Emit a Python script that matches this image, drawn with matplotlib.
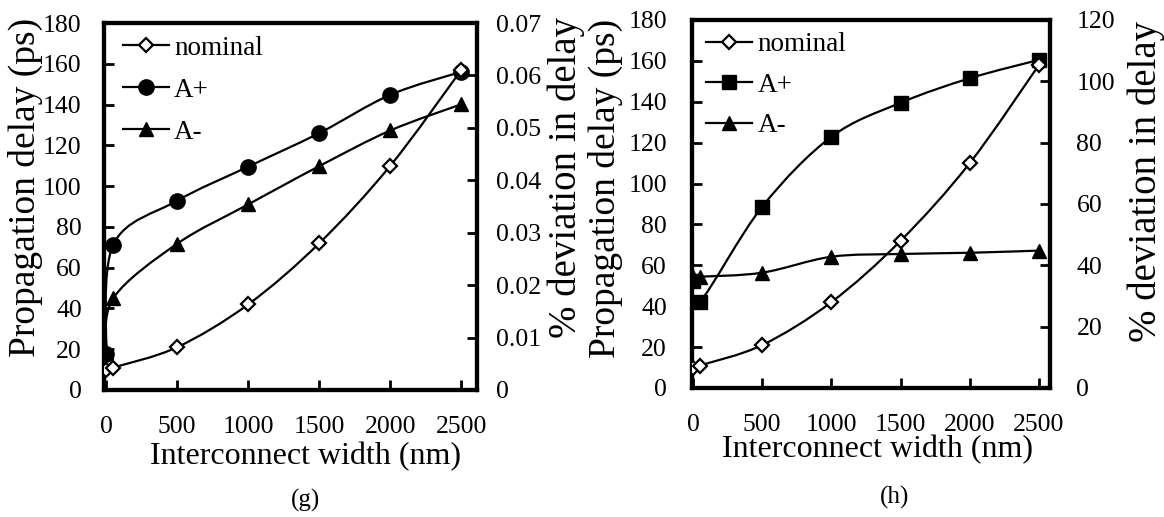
import matplotlib
matplotlib.use("Agg")
import matplotlib.pyplot as plt
from matplotlib.path import Path
from matplotlib.patches import PathPatch
from matplotlib.lines import Line2D

plt.rcParams['font.family'] = ['Liberation Serif', 'DejaVu Serif']

# ---------------- data ----------------
widths = [0, 50, 500, 1000, 1500, 2000, 2500]
x_ticks = [0, 500, 1000, 1500, 2000, 2500]

# panel (g)
g_nominal = [10, 11, 21, 42, 72, 110, 157]                         # ps (left axis)
g_aplus = [0.0068, 0.0277, 0.0361, 0.0426, 0.0490, 0.0563, 0.0607]  # % (right axis)
g_aminus = [0.0072, 0.0175, 0.0279, 0.0354, 0.0427, 0.0495, 0.0545]
g_left_ticks = [0, 20, 40, 60, 80, 100, 120, 140, 160, 180]
g_right_ticks = [0, 0.01, 0.02, 0.03, 0.04, 0.05, 0.06, 0.07]
g_right_labels = ['0', '0.01', '0.02', '0.03', '0.04', '0.05', '0.06', '0.07']

# panel (h)
h_nominal = [10, 11, 21, 42, 72, 110, 158]                          # ps (left axis)
h_aplus = [34.9, 28.1, 59.1, 81.9, 93.0, 101.0, 107.0]              # % (right axis)
h_aminus = [36.3, 36.3, 37.6, 42.8, 43.7, 44.1, 44.8]
h_left_ticks = [0, 20, 40, 60, 80, 100, 120, 140, 160, 180]
h_right_ticks = [0, 20, 40, 60, 80, 100, 120]

series_names = ['nominal', 'A+', 'A-']
xlabel = 'Interconnect width (nm)'
ylabel_left = 'Propagation delay (ps)'
ylabel_right = '% deviation in delay'

W, H = 1164, 517
fig = plt.figure(figsize=(W / 100, H / 100), dpi=100)


def px_axes(l, t, r, b):
    return fig.add_axes([l / W, 1 - b / H, (r - l) / W, (b - t) / H])


def smooth_line(ax, xs, ys, lw=1.6):
    """Excel-style smoothed line: cubic Bezier segments through the points."""
    n = len(xs)
    verts = [(xs[0], ys[0])]
    codes = [Path.MOVETO]
    for i in range(n - 1):
        x0, y0 = xs[max(i - 1, 0)], ys[max(i - 1, 0)]
        x1, y1 = xs[i], ys[i]
        x2, y2 = xs[i + 1], ys[i + 1]
        x3, y3 = xs[min(i + 2, n - 1)], ys[min(i + 2, n - 1)]
        c1 = (x1 + (x2 - x0) / 6.0, y1 + (y2 - y0) / 6.0)
        c2 = (x2 - (x3 - x1) / 6.0, y2 - (y3 - y1) / 6.0)
        verts += [c1, c2, (x2, y2)]
        codes += [Path.CURVE4] * 3
    patch = PathPatch(Path(verts, codes), facecolor='none', edgecolor='black',
                      lw=lw, zorder=2)
    ax.add_patch(patch)


def style_axis(ax, ax2, xlim, ylim, y2lim, yt, y2t, y2l, pads):
    ax.set_xlim(*xlim)
    ax.set_ylim(*ylim)
    ax2.set_ylim(*y2lim)
    ax.set_xticks(x_ticks)
    ax.set_xticklabels([str(v) for v in x_ticks])
    ax.set_yticks(yt)
    ax.set_yticklabels([str(v) for v in yt])
    ax2.set_yticks(y2t)
    ax2.set_yticklabels(y2l)
    for a in (ax, ax2):
        for s in a.spines.values():
            s.set_linewidth(3)
    ax.tick_params(axis='x', direction='in', length=7, width=2, labelsize=18.5,
                   pad=pads[0], top=False)
    ax.tick_params(axis='y', direction='in', length=7, width=2, labelsize=18.5,
                   pad=pads[1], right=False)
    ax2.tick_params(axis='y', direction='in', length=7, width=2, labelsize=18.5,
                    pad=pads[2])


# ---------------- panel (g) ----------------
axg = px_axes(104, 23, 477, 390)
axg2 = axg.twinx()
style_axis(axg, axg2, (-15, 2610), (0, 180), (0, 0.07),
           g_left_ticks, g_right_ticks, g_right_labels, (19, 16, 14))

smooth_line(axg, widths, g_nominal)
smooth_line(axg2, widths, g_aplus)
smooth_line(axg2, widths, g_aminus)
axg2.plot(widths, g_aminus, ls='none', marker='^', ms=9.5, color='black', zorder=3)
axg2.plot(widths, g_aplus, ls='none', marker='o', ms=11, color='black', zorder=3)
axg2.plot(widths, [v * 0.07 / 180 for v in g_nominal], ls='none', marker='D', ms=7,
          mfc='white', mec='black', mew=1.6, zorder=4)

hg = [Line2D([], [], color='black', lw=1.6, marker='D', ms=7, mfc='white', mec='black', mew=1.6),
      Line2D([], [], color='black', lw=1.6, marker='o', ms=11),
      Line2D([], [], color='black', lw=1.6, marker='^', ms=9.5)]
axg2.legend(hg, series_names, loc='upper left', bbox_to_anchor=(0.05, 0.965),
            frameon=False, fontsize=19.5, handlelength=1.7, handletextpad=0.2,
            labelspacing=0.63, borderpad=0, borderaxespad=0, numpoints=1)

fig.text(25 / W, 1 - 187 / H, ylabel_left, rotation=90, ha='center', va='center', fontsize=27)
fig.text(566 / W, 1 - 178 / H, ylabel_right, rotation=90, ha='center', va='center', fontsize=28)
fig.text(305 / W, 1 - 457 / H, xlabel, ha='center', va='center', fontsize=23)
fig.text(305 / W, 1 - 500 / H, '(g)', ha='center', va='center', fontsize=18)

# ---------------- panel (h) ----------------
axh = px_axes(692, 20, 1050, 388)
axh2 = axh.twinx()
style_axis(axh, axh2, (-7, 2580), (0, 180), (0, 120),
           h_left_ticks, h_right_ticks, [str(v) for v in h_right_ticks], (19, 18, 19))

smooth_line(axh, widths, h_nominal)
smooth_line(axh2, widths, h_aplus)
smooth_line(axh2, widths, h_aminus)
axh2.plot(widths, h_aminus, ls='none', marker='^', ms=9.5, color='black', zorder=3)
axh2.plot(widths, h_aplus, ls='none', marker='s', ms=9.5, color='black', zorder=3)
axh2.plot(widths, [v * 120 / 180 for v in h_nominal], ls='none', marker='D', ms=7,
          mfc='white', mec='black', mew=1.6, zorder=4)

hh = [Line2D([], [], color='black', lw=1.6, marker='D', ms=7, mfc='white', mec='black', mew=1.6),
      Line2D([], [], color='black', lw=1.6, marker='s', ms=9.5),
      Line2D([], [], color='black', lw=1.6, marker='^', ms=9.5)]
axh2.legend(hh, series_names, loc='upper left', bbox_to_anchor=(0.04, 0.967),
            frameon=False, fontsize=19.5, handlelength=1.7, handletextpad=0.2,
            labelspacing=0.57, borderpad=0, borderaxespad=0, numpoints=1)

fig.text(605 / W, 1 - 188 / H, ylabel_left, rotation=90, ha='center', va='center', fontsize=27)
fig.text(1146 / W, 1 - 182 / H, ylabel_right, rotation=90, ha='center', va='center', fontsize=28)
fig.text(878 / W, 1 - 450 / H, xlabel, ha='center', va='center', fontsize=23)
fig.text(895 / W, 1 - 497 / H, '(h)', ha='center', va='center', fontsize=18)

fig.savefig('out.png', dpi=100)
